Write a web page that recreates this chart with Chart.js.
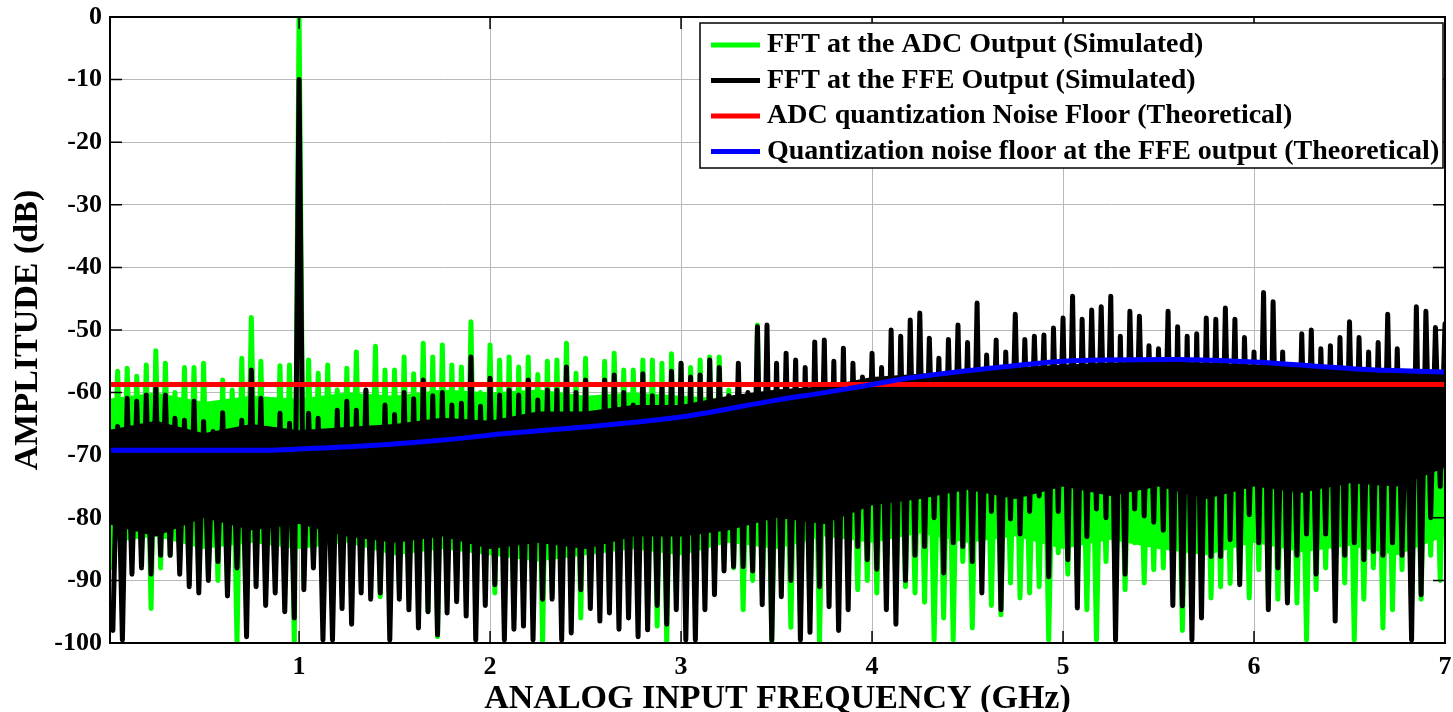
<!DOCTYPE html>
<html>
<head>
<meta charset="utf-8">
<script src="https://cdn.jsdelivr.net/npm/chart.js@4.4.1/dist/chart.umd.min.js"></script>
<style>
    html, body { margin: 0; padding: 0; background: #fff; }
    #wrap { width: 1453px; height: 712px; }
</style>
</head>
<body>
<div id="wrap"><canvas id="fftChart" width="1453" height="712"></canvas></div>
<script>
// fft spectrum: ADC output vs FFE output

// Display bins are 0.05 GHz wide; each bin is drawn as a trough then a peak
const BIN_STEP = 0.05;

const X_TICKS = [1, 2, 3, 4, 5, 6, 7];
const Y_TICKS = [0, -10, -20, -30, -40, -50, -60, -70, -80, -90, -100];

// FFT at the ADC output (green) - peak and trough of every bin, dB
const ADC_PEAK = [
    -56.6, -56.1, -57.4, -55.6, -53.3, -55.3, -60, -56, -56, -55.3, -61.7, -58, -59.6, -54.5, -48, -55, -61.7, -55.7, -55.6, 0,
    -54.8, -56.9, -55.6, -59.6, -56.1, -53.5, -59.6, -52.6, -56.4, -56.4, -54.3, -57, -52.1, -54.3, -52.4, -55.6, -55.9, -48.7, -60, -52.4,
    -54.8, -54.3, -55.9, -54.3, -57.1, -55, -54.8, -52.1, -56.9, -54.5, -61.7, -55, -53.7, -56.4, -56.4, -54.8, -54.8, -55.3, -53.8, -55.3,
    -56, -54.8, -54.3, -54.3, -59.6, -58, -62, -49.2, -60, -62, -60, -58.5, -61, -57, -59, -62, -58, -60.5, -61, -58.5,
    -62, -57, -59, -60, -58, -60, -62, -59, -57.5, -61, -58, -62, -60, -59, -57, -61, -60, -58.5, -62, -59,
    -57.5, -60, -58, -61, -59, -60, -58, -61, -62, -59, -57.5, -60, -59, -61, -58, -60, -57.5, -60, -62, -60,
    -58, -59, -61, -60, -59, -58, -61, -60, -59.5, -58, -61, -60, -59, -57.5, -60, -61, -58, -59, -60, -58
];
const ADC_TROUGH = [
    -88, -85, -87, -86, -94.5, -88, -86, -87, -88, -90, -89, -90, -91, -100, -90, -88, -90, -88, -88, -100,
    -90, -87, -89, -90, -92, -89, -90, -88, -92.6, -90, -91, -93, -90, -95, -99, -92, -90, -91, -93, -90,
    -92, -89, -96, -91, -93, -100, -92, -90, -94, -96, -92, -90, -93, -88, -91, -92, -93, -97.3, -100, -92,
    -90, -88, -91, -89.5, -87, -88, -94.7, -90, -92, -100, -90, -97.5, -95, -95.2, -100, -86, -86, -88, -91.5, -90,
    -92, -88, -92.5, -91, -92, -93.5, -99.5, -96, -99.5, -87, -97.6, -85.6, -94, -95.5, -90.4, -92.8, -92, -91, -99.5, -85.6,
    -89, -90.4, -94.7, -99.5, -87, -93, -91.5, -84, -90.4, -88.3, -88, -82, -98, -88.3, -90.4, -92.8, -91, -90.5, -90, -92.8,
    -88.3, -92.8, -93, -93.3, -93.6, -99.5, -91.5, -88, -90, -90.4, -99.5, -93, -88, -97.6, -94.7, -88.3, -94, -93, -86, -90
];

// FFT at the FFE output (black)
const FFE_PEAK = [
    -65.4, -60.9, -61.4, -60.4, -59.3, -60.4, -64.1, -64.4, -61.4, -64.6, -66.2, -63.2, -66.5, -64.4, -56.4, -60.9, -67.8, -63.3, -64.9, -10,
    -63.3, -64.1, -66.5, -62.8, -61.4, -62.8, -59.6, -67, -62, -63.5, -60, -61, -58, -60.5, -60, -62, -61.7, -54.3, -62.2, -57.7,
    -60.4, -59.6, -60.4, -58, -61.2, -59.6, -59.6, -55.9, -60, -58, -64.4, -58, -57.2, -60, -62, -57, -60.5, -59, -56.6, -55.3,
    -57.5, -57.2, -54.8, -56, -60.5, -55.3, -60, -49.5, -49.2, -55.3, -53.7, -54.8, -56, -51.9, -51.6, -55, -52.9, -55.3, -57.5, -53.7,
    -56, -50, -51, -48.4, -47.3, -51.3, -54.5, -51.5, -49.2, -52, -45.7, -54, -51.6, -53.5, -47.5, -51.5, -51, -50.8, -49.7, -48.1,
    -44.6, -48.3, -46.8, -46.3, -44.6, -51, -47, -47.8, -52.5, -53, -47, -49.5, -51, -50.6, -48.1, -48.3, -46.5, -48.3, -51.2, -53.5,
    -44, -45.5, -53.5, -56, -50.6, -50, -53, -52.5, -51.2, -48.7, -51.2, -53.5, -52, -47.5, -53, -57, -46.3, -47, -49.6, -49
];
const FFE_TROUGH = [
    -98, -99.5, -89, -88, -89, -86, -86, -89, -91, -92, -90, -87, -92.5, -88, -99, -91, -94, -92, -95, -96,
    -91.5, -88, -99.5, -99.5, -94.5, -97, -92, -93, -92, -99.5, -93, -94.7, -97.6, -95, -98.7, -95.2, -93.4, -95.7, -99.5, -94,
    -90.7, -99.5, -97.8, -97.3, -99.5, -93, -93, -99.5, -98.4, -91.5, -94.5, -96.5, -95.2, -97.8, -96, -99, -97.9, -94, -97, -94.7,
    -99.5, -99.5, -94.7, -92.3, -88.5, -87.8, -87.8, -88.5, -93.9, -99.5, -92.6, -90, -99.5, -98.3, -91, -94.2, -98, -94.7, -84.6, -86.7,
    -88.2, -94.7, -97, -90, -86, -84.6, -80, -88.8, -84, -84.6, -87, -92, -79, -94.7, -80.2, -82.6, -79, -76.5, -89.4, -79,
    -86.7, -94.4, -83, -78.6, -80, -99.5, -89, -78.6, -79.7, -80.7, -82, -94, -94.1, -99.5, -96, -86.2, -86.2, -83.5, -90.7, -79.5,
    -84, -94.7, -88, -93.6, -86, -82.6, -89, -82.6, -96.5, -86, -84, -86.7, -85.4, -86, -84, -86, -99.5, -92.3, -80, -75
];

// where each noise trace is packed solid (edges of the dense band), dB
const CORE_FREQ = [
    0, 0.25, 0.5, 0.75, 1, 1.25, 1.5, 1.75, 2, 2.25, 2.5, 2.75, 3, 3.25, 3.5,
    3.75, 4, 4.25, 4.5, 4.75, 5, 5.25, 5.5, 5.75, 6, 6.25, 6.5, 6.75, 7
];
const ADC_CORE_TOP = [
    -61, -60, -61.5, -60.5, -61, -60, -60.5, -59.5, -60, -59.5, -60.5, -60, -60.5, -61, -62,
    -62, -62, -62, -62, -62, -62, -62, -62, -62, -62, -62, -62, -62, -62
];
const ADC_CORE_BOTTOM = [
    -84, -83, -85, -84, -85, -84, -86, -85, -86, -87, -86, -85, -86, -84, -85,
    -83, -84, -82.5, -84, -83, -85, -83.5, -85, -86, -84, -85.5, -84.5, -86, -83
];
const FFE_CORE_TOP = [
    -66, -64.5, -66.5, -65, -66, -65.5, -65, -64, -64.5, -63, -63, -62, -62, -60.5, -59.5,
    -59, -57.5, -57, -56.5, -56, -55.5, -55.2, -55, -55.2, -55.5, -55.8, -56.3, -56.7, -57
];
const FFE_CORE_BOTTOM = [
    -81, -83, -80, -82, -81, -83, -84, -83, -85, -84, -85, -83, -83, -82, -80,
    -81, -78, -77, -75.5, -77, -75, -76.5, -75, -77, -75, -76, -74.5, -75, -72
];

// Theoretical noise floors
const ADC_FLOOR_FREQ = [0, 7];
const ADC_FLOOR_DB = [-58.7, -58.7];
const FFE_FLOOR_FREQ = [0, 0.84, 1.0, 1.4, 1.74, 2.1, 2.5, 2.8, 3.0, 3.5, 3.75, 4.0, 4.21, 4.68, 5.05, 5.6, 6.0, 6.59, 7.0];
const FFE_FLOOR_DB = [-69.2, -69.2, -69.0, -68.4, -67.6, -66.5, -65.5, -64.6, -63.9, -61.2, -60.0, -58.7, -57.6, -55.9, -54.9, -54.7, -55.1, -56.3, -56.7];

const LABELS = [
    "FFT at the ADC Output (Simulated)",
    "FFT at the FFE Output (Simulated)",
    "ADC quantization Noise Floor (Theoretical)",
    "Quantization noise floor at the FFE output (Theoretical)"
];
const COLORS = ["#00ff00", "#000000", "#ff0000", "#0000ff"];

const FONT = "'Liberation Serif', 'Times New Roman', serif";

// trough / peak pairs -> {x, y} points on the frequency axis
function spectrum(troughs, peaks) {
    const pts = [];
    peaks.forEach((p, i) => {
        const f = (i + 1) * BIN_STEP;
        pts.push({ x: f - BIN_STEP / 2, y: troughs[i] });
        pts.push({ x: f, y: p });
    });
    return pts;
}

const pairs = (xs, ys) => xs.map((x, i) => ({ x, y: ys[i] }));

// solid band of a trace: top edge filled down to the next dataset (its bottom edge)
function band(ys, color, order, fillTo) {
    return {
        data: pairs(CORE_FREQ, ys),
        borderWidth: 0,
        borderColor: color,
        backgroundColor: color,
        fill: fillTo,
        order
    };
}

// box round the axes, inward ticks, and the legend box
const framePlugin = {
    id: "frame",
    afterDatasetsDraw(chart) {
        const { ctx, chartArea: a, scales } = chart;
        ctx.save();
        ctx.strokeStyle = "#000";
        ctx.lineWidth = 1.5;
        ctx.beginPath();
        Y_TICKS.forEach(v => {
            const y = scales.y.getPixelForValue(v);
            ctx.moveTo(a.left, y);  ctx.lineTo(a.left + 12, y);
            ctx.moveTo(a.right, y); ctx.lineTo(a.right - 12, y);
        });
        X_TICKS.forEach(v => {
            const x = scales.x.getPixelForValue(v);
            ctx.moveTo(x, a.bottom); ctx.lineTo(x, a.bottom - 12);
            ctx.moveTo(x, a.top);    ctx.lineTo(x, a.top + 12);
        });
        ctx.stroke();
        ctx.lineWidth = 2;
        ctx.strokeRect(a.left, a.top, a.right - a.left, a.bottom - a.top);

        // legend
        const box = { left: 700, top: 23, right: 1443, bottom: 168 };
        ctx.fillStyle = "#fff";
        ctx.fillRect(box.left, box.top, box.right - box.left, box.bottom - box.top);
        ctx.lineWidth = 1.5;
        ctx.strokeRect(box.left, box.top, box.right - box.left, box.bottom - box.top);
        ctx.font = "bold 28px " + FONT;
        ctx.textBaseline = "middle";
        LABELS.forEach((label, i) => {
            const y = box.top + 22 + i * 35.5;
            ctx.strokeStyle = COLORS[i];
            ctx.lineWidth = 5;
            ctx.beginPath();
            ctx.moveTo(box.left + 11, y);
            ctx.lineTo(box.left + 60, y);
            ctx.stroke();
            ctx.fillStyle = "#000";
            ctx.fillText(label, box.left + 67, y);
        });
        ctx.restore();
    }
};

// keep the plot box where the reference has it
function noPad(s) {
    s.paddingTop = 0;
    s.paddingBottom = 0;
    s.paddingLeft = 0;
    s.paddingRight = 0;
}

const ctx = document.getElementById("fftChart");

new Chart(ctx, {
    type: "line",
    data: {
        datasets: [
            band(ADC_CORE_TOP, COLORS[0], 8, "+1"),
            band(ADC_CORE_BOTTOM, COLORS[0], 8, false),
            { label: LABELS[0], data: spectrum(ADC_TROUGH, ADC_PEAK), borderColor: COLORS[0], borderWidth: 5, order: 7 },
            band(FFE_CORE_TOP, COLORS[1], 6, "+1"),
            band(FFE_CORE_BOTTOM, COLORS[1], 6, false),
            { label: LABELS[1], data: spectrum(FFE_TROUGH, FFE_PEAK), borderColor: COLORS[1], borderWidth: 5, order: 5 },
            { label: LABELS[2], data: pairs(ADC_FLOOR_FREQ, ADC_FLOOR_DB), borderColor: COLORS[2], borderWidth: 5, order: 2 },
            { label: LABELS[3], data: pairs(FFE_FLOOR_FREQ, FFE_FLOOR_DB), borderColor: COLORS[3], borderWidth: 5, order: 1,
              cubicInterpolationMode: "monotone" }
        ]
    },
    options: {
        responsive: false,
        animation: false,
        events: [],
        layout: { padding: { top: 17, right: 8, left: 0, bottom: 0 } },
        elements: {
            point: { radius: 0 },
            line: { tension: 0, borderJoinStyle: "round", borderCapStyle: "round", fill: false }
        },
        datasets: { line: { clip: 0 } },
        plugins: {
            legend: { display: false },
            tooltip: { enabled: false }
        },
        scales: {
            x: {
                type: "linear",
                min: 0.01,
                max: 7,
                afterBuildTicks: s => { s.ticks = X_TICKS.map(v => ({ value: v })); },
                afterFit: s => { s.height = 69; noPad(s); },
                grid: { color: "#b8b8b8", lineWidth: 1, drawTicks: false },
                border: { color: "#000", width: 2 },
                ticks: {
                    color: "#000",
                    padding: 9,
                    maxRotation: 0,
                    font: { family: FONT, size: 26, weight: "bold" }
                },
                title: {
                    display: true,
                    text: "ANALOG INPUT FREQUENCY (GHz)",
                    color: "#000",
                    padding: { top: 0, bottom: 0 },
                    font: { family: FONT, size: 34, weight: "bold", lineHeight: 0.75 }
                }
            },
            y: {
                min: -100,
                max: 0,
                afterBuildTicks: s => { s.ticks = Y_TICKS.map(v => ({ value: v })); },
                afterFit: s => { s.width = 110; noPad(s); },
                grid: { color: "#b8b8b8", lineWidth: 1, drawTicks: false },
                border: { color: "#000", width: 2 },
                ticks: {
                    color: "#000",
                    padding: 8,
                    font: { family: FONT, size: 26, weight: "bold" }
                },
                title: {
                    display: true,
                    text: "AMPLITUDE (dB)",
                    color: "#000",
                    padding: { top: 11, bottom: 0 },
                    font: { family: FONT, size: 34, weight: "bold", lineHeight: 1 }
                }
            }
        }
    },
    plugins: [framePlugin]
});
</script>
</body>
</html>
